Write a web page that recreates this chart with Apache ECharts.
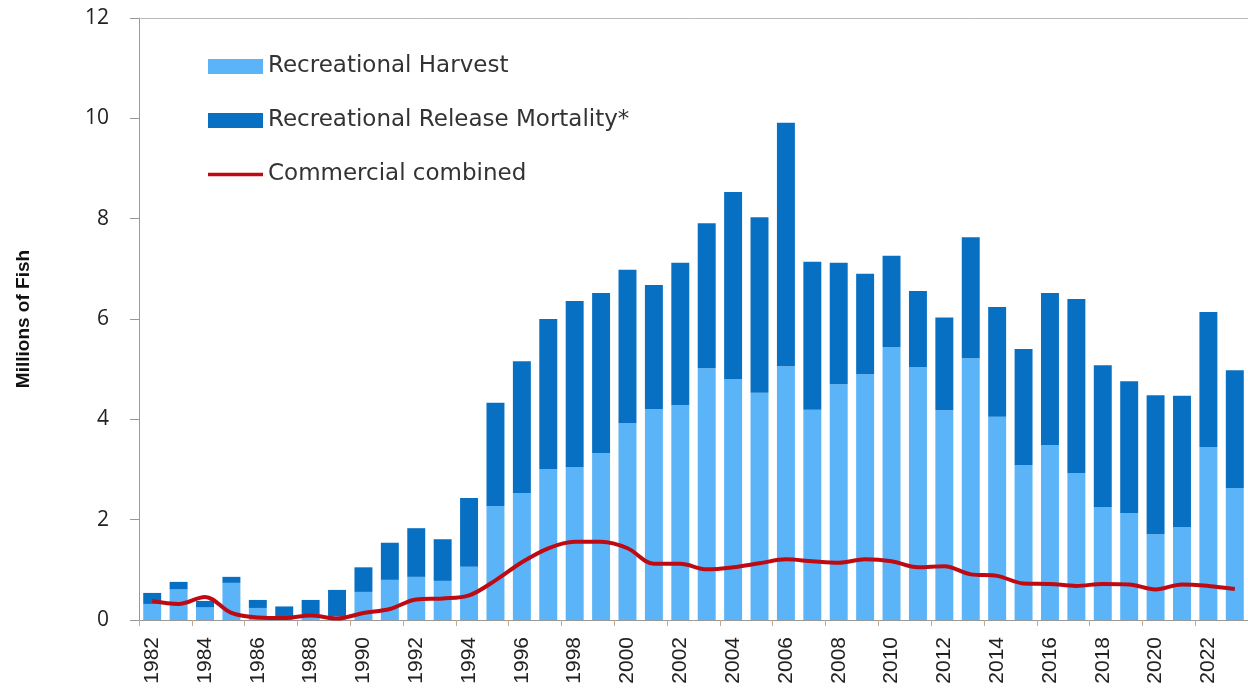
<!DOCTYPE html>
<html>
<head>
<meta charset="utf-8">
<script src="https://cdn.jsdelivr.net/npm/echarts@6/dist/echarts.min.js"></script>
<style>
  html, body { margin: 0; padding: 0; background: #fff; }
  #chart { width: 1248px; height: 696px; }
</style>
</head>
<body>
<div id="chart"></div>
<script>
// years on the x axis
const years = [];
for (let y = 1982; y <= 2023; y++) years.push(String(y));

// recreational harvest (light blue part), millions of fish
const harvest = [0.32, 0.61, 0.25, 0.74, 0.24, 0.05, 0.12, 0.08, 0.56, 0.80,
  0.86, 0.78, 1.06, 2.27, 2.53, 3.01, 3.05, 3.33, 3.92, 4.20,
  4.28, 5.02, 4.80, 4.53, 5.06, 4.19, 4.70, 4.90, 5.44, 5.04,
  4.18, 5.22, 4.05, 3.09, 3.49, 2.93, 2.25, 2.13, 1.71, 1.85,
  3.45, 2.63];

// bar totals (top of the dark blue part)
const totals = [0.54, 0.76, 0.38, 0.86, 0.40, 0.27, 0.40, 0.60, 1.05, 1.54,
  1.83, 1.61, 2.43, 4.33, 5.16, 6.00, 6.36, 6.52, 6.98, 6.68,
  7.12, 7.91, 8.53, 8.03, 9.91, 7.14, 7.12, 6.90, 7.26, 6.56,
  6.03, 7.63, 6.24, 5.40, 6.52, 6.40, 5.08, 4.76, 4.48, 4.47,
  6.14, 4.98];

// release mortality = total - harvest
const release = totals.map((t, i) => +(t - harvest[i]).toFixed(2));

// commercial combined (red line)
const commercial = [0.38, 0.32, 0.46, 0.14, 0.05, 0.04, 0.09, 0.03, 0.14, 0.22,
  0.41, 0.43, 0.49, 0.79, 1.15, 1.43, 1.56, 1.56, 1.43, 1.12,
  1.12, 1.01, 1.05, 1.13, 1.21, 1.17, 1.14, 1.21, 1.17, 1.05,
  1.07, 0.91, 0.88, 0.73, 0.72, 0.68, 0.72, 0.71, 0.61, 0.71,
  0.68, 0.62];

const chart = echarts.init(document.getElementById('chart'));

chart.setOption({
  animation: false,
  grid: { left: 139, top: 18, width: 1113, height: 602 },
  legend: {
    orient: 'vertical',
    left: 203,
    top: 50,
    itemWidth: 55,
    itemHeight: 15,
    itemGap: 31,
    textStyle: { fontFamily: 'DejaVu Sans', fontSize: 23, color: '#333' },
    data: [
      { name: 'Recreational Harvest', icon: 'rect' },
      { name: 'Recreational Release Mortality*', icon: 'rect' },
      { name: 'Commercial combined', icon: 'path://M0,0 L60,0 L60,4 L0,4 Z' }
    ]
  },
  xAxis: [
    {
      type: 'category',
      data: years,
      axisLine: { lineStyle: { color: '#999' } },
      axisTick: { show: true, length: 6, lineStyle: { color: '#c9a888' } },
      axisLabel: {
        interval: 1,
        rotate: 90,
        margin: 17,
        fontFamily: 'Liberation Sans',
        fontSize: 21,
        color: '#222'
      }
    },
    {
      type: 'category',
      data: years,
      position: 'top',
      axisLine: { lineStyle: { color: '#bbb' } },
      axisTick: { show: false },
      axisLabel: { show: false }
    }
  ],
  yAxis: {
    type: 'value',
    min: 0,
    max: 12,
    interval: 2,
    name: 'Millions of Fish',
    nameLocation: 'middle',
    nameRotate: 90,
    nameGap: 106,
    nameTextStyle: { fontFamily: 'Liberation Sans', fontSize: 19, fontWeight: 'bold', color: '#111' },
    axisLine: { show: true, lineStyle: { color: '#999' } },
    axisTick: { show: true, length: 9, lineStyle: { color: '#999' } },
    splitLine: { show: false },
    axisLabel: { margin: 30, fontFamily: 'Open Sans', fontSize: 21, color: '#222' }
  },
  series: [
    {
      name: 'Recreational Harvest',
      type: 'bar',
      stack: 'rec',
      barCategoryGap: '32%',
      itemStyle: { color: '#5ab4f7' },
      data: harvest
    },
    {
      name: 'Recreational Release Mortality*',
      type: 'bar',
      stack: 'rec',
      barCategoryGap: '32%',
      itemStyle: { color: '#0870c2' },
      data: release
    },
    {
      name: 'Commercial combined',
      type: 'line',
      smooth: 0.35,
      symbol: 'none',
      z: 5,
      lineStyle: { color: '#be0a12', width: 4 },
      itemStyle: { color: '#be0a12' },
      data: commercial
    }
  ]
});
</script>
</body>
</html>
